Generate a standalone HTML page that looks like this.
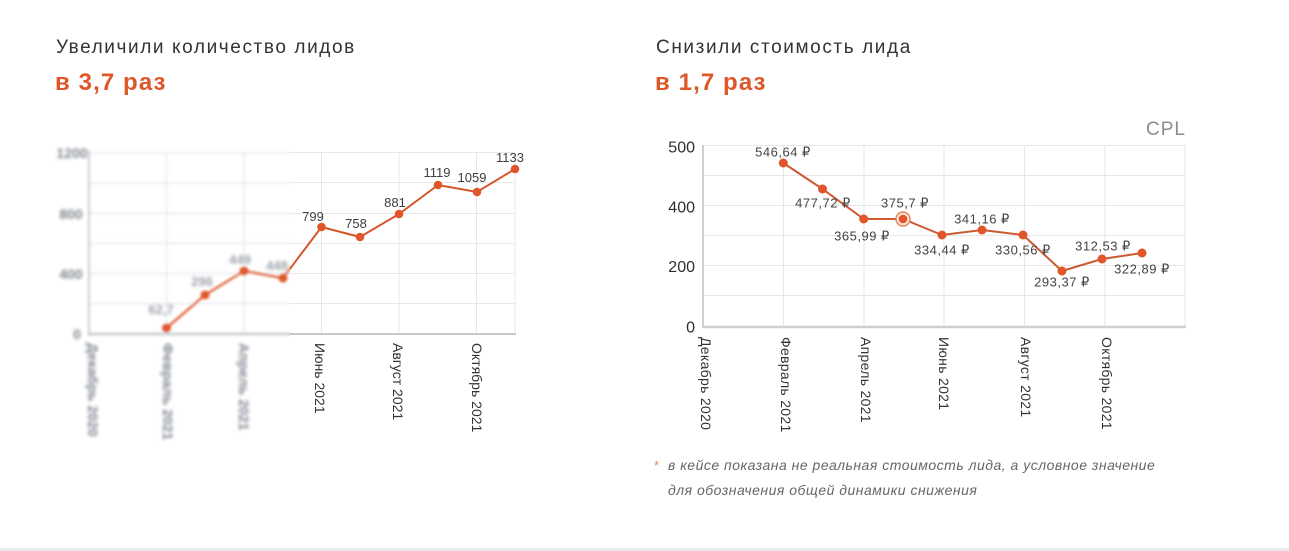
<!DOCTYPE html>
<html><head><meta charset="utf-8"><style>
html,body{margin:0;padding:0;background:#fff;}
body{width:1289px;height:551px;overflow:hidden;position:relative;}
svg{display:block;}
</style></head><body>
<svg width="1289" height="551" viewBox="0 0 1289 551" xmlns="http://www.w3.org/2000/svg" font-family="'Liberation Sans', 'DejaVu Sans', sans-serif">
<defs>
<filter id="bl" x="-30%" y="-30%" width="160%" height="160%"><feGaussianBlur stdDeviation="1.4"/></filter>
<filter id="bt" x="-30%" y="-30%" width="160%" height="160%"><feGaussianBlur stdDeviation="1.6"/></filter>
<clipPath id="cl"><rect x="0" y="0" width="290" height="551"/></clipPath>
<clipPath id="cr"><rect x="290" y="0" width="999" height="551"/></clipPath>
</defs>

<!-- Titles -->
<text x="56" y="53" font-size="19" letter-spacing="1.6" fill="#333">Увеличили количество лидов</text>
<text x="55" y="90" font-size="24" font-weight="bold" letter-spacing="1.1" fill="#de5729">в 3,7 раз</text>
<text x="656" y="53" font-size="19" letter-spacing="1.6" fill="#333">Снизили стоимость лида</text>
<text x="655" y="90" font-size="24" font-weight="bold" letter-spacing="1.1" fill="#de5729">в 1,7 раз</text>

<!-- LEFT CHART: blurred part -->
<g clip-path="url(#cl)">
 <g filter="url(#bl)">
  <g stroke="#e4e6e9" stroke-width="1.3">
   <line x1="89" y1="153" x2="515" y2="153"/>
   <line x1="89" y1="183" x2="515" y2="183"/>
   <line x1="89" y1="213.5" x2="515" y2="213.5"/>
   <line x1="89" y1="243.5" x2="515" y2="243.5"/>
   <line x1="89" y1="273.5" x2="515" y2="273.5"/>
   <line x1="89" y1="303.5" x2="515" y2="303.5"/>
   <line x1="166.5" y1="153" x2="166.5" y2="334"/>
   <line x1="244" y1="153" x2="244" y2="334"/>
  </g>
  <line x1="89" y1="150" x2="89" y2="336" stroke="#d3d6da" stroke-width="2.5"/>
  <line x1="88" y1="334" x2="515" y2="334" stroke="#cdd0d4" stroke-width="3"/>
  <polyline fill="none" stroke="#e0592a" stroke-width="2.2" points="166.5,328 205,295 244,271 283,278 321.5,227 360,237 399,214 438,185 477,192 515,169"/>
  <g fill="#e0592a">
   <circle cx="166.5" cy="328" r="4.5"/><circle cx="205" cy="295" r="4.5"/>
   <circle cx="244" cy="271" r="4.5"/><circle cx="283" cy="278" r="4.5"/>
  </g>
 </g>
 <g filter="url(#bt)" font-weight="bold">
  <g font-size="14" fill="#80868f" text-anchor="middle">
   <text x="72" y="158">1200</text>
   <text x="71" y="219">800</text>
   <text x="71" y="279">400</text>
   <text x="77" y="339">0</text>
  </g>
  <g font-size="13" fill="#9da2aa" text-anchor="middle">
   <text x="161" y="314">62,7</text>
   <text x="202" y="286">296</text>
   <text x="240" y="264">449</text>
   <text x="277" y="270">448</text>
  </g>
  <g font-size="14" fill="#80868f">
   <text transform="translate(93,343) rotate(90)" dy="0.35em">Декабрь 2020</text>
   <text transform="translate(168,343) rotate(90)" dy="0.35em">Февраль 2021</text>
   <text transform="translate(244,343) rotate(90)" dy="0.35em">Апрель 2021</text>
  </g>
 </g>
</g>

<!-- LEFT CHART: sharp part -->
<g clip-path="url(#cr)">
 <g stroke="#e8e8e8" stroke-width="1">
  <line x1="89" y1="152.5" x2="515" y2="152.5"/>
  <line x1="89" y1="182.5" x2="515" y2="182.5"/>
  <line x1="89" y1="213.5" x2="515" y2="213.5"/>
  <line x1="89" y1="243.5" x2="515" y2="243.5"/>
  <line x1="89" y1="273.5" x2="515" y2="273.5"/>
  <line x1="89" y1="303.5" x2="515" y2="303.5"/>
  <line x1="321.5" y1="152" x2="321.5" y2="334"/>
  <line x1="399" y1="152" x2="399" y2="334"/>
  <line x1="476.5" y1="152" x2="476.5" y2="334"/>
  <line x1="515" y1="152" x2="515" y2="334"/>
 </g>
 <line x1="89" y1="334" x2="516" y2="334" stroke="#c8c8c8" stroke-width="2"/>
 <polyline fill="none" stroke="#d5552a" stroke-width="2" points="244,271 283,278 321.5,227 360,237 399,214 438,185 477,192 515,169"/>
 <g fill="#e0562a">
  <circle cx="283" cy="278" r="4.3"/>
  <circle cx="321.5" cy="227" r="4.3"/><circle cx="360" cy="237" r="4.3"/>
  <circle cx="399" cy="214" r="4.3"/><circle cx="438" cy="185" r="4.3"/>
  <circle cx="477" cy="192" r="4.3"/><circle cx="515" cy="169" r="4.3"/>
 </g>
 <g font-size="13" fill="#3e3e3e" text-anchor="middle">
  <text x="313" y="221">799</text>
  <text x="356" y="228">758</text>
  <text x="395" y="207">881</text>
  <text x="437" y="177">1119</text>
  <text x="472" y="182">1059</text>
  <text x="510" y="162">1133</text>
 </g>
 <g font-size="14" fill="#333">
  <text transform="translate(320,343) rotate(90)" dy="0.35em">Июнь 2021</text>
  <text transform="translate(398,343) rotate(90)" dy="0.35em">Август 2021</text>
  <text transform="translate(477,343) rotate(90)" dy="0.35em">Октябрь 2021</text>
 </g>
</g>

<!-- RIGHT CHART -->
<text x="1186" y="135" font-size="19" letter-spacing="1" fill="#8c8c8c" text-anchor="end">CPL</text>
<g stroke="#e6e6e6" stroke-width="1">
 <line x1="703" y1="145.5" x2="1185" y2="145.5"/>
 <line x1="703" y1="175.5" x2="1185" y2="175.5"/>
 <line x1="703" y1="205.5" x2="1185" y2="205.5"/>
 <line x1="703" y1="235.5" x2="1185" y2="235.5"/>
 <line x1="703" y1="265.5" x2="1185" y2="265.5"/>
 <line x1="703" y1="295.5" x2="1185" y2="295.5"/>
 <line x1="783.5" y1="145" x2="783.5" y2="326"/>
 <line x1="864" y1="145" x2="864" y2="326"/>
 <line x1="944" y1="145" x2="944" y2="326"/>
 <line x1="1024.5" y1="145" x2="1024.5" y2="326"/>
 <line x1="1105" y1="145" x2="1105" y2="326"/>
 <line x1="1185" y1="145" x2="1185" y2="326"/>
</g>
<line x1="703" y1="145" x2="703" y2="328" stroke="#cfcfcf" stroke-width="2"/>
<line x1="702" y1="327" x2="1186" y2="327" stroke="#cfcfcf" stroke-width="2.5"/>
<g font-size="16" fill="#2f2f2f" text-anchor="end">
 <text x="695" y="152.5">500</text>
 <text x="695" y="212.5">400</text>
 <text x="695" y="272">200</text>
 <text x="695" y="332.5">0</text>
</g>
<polyline fill="none" stroke="#cc5a30" stroke-width="2" points="783.3,163 822.5,189 863.7,219 903,219 942,235 982,230 1023,235 1062,271 1102,259 1142,253"/>
<circle cx="903" cy="219" r="7" fill="#fbe3d8" stroke="#e7835a" stroke-width="1.4"/>
<g fill="#e0562a">
 <circle cx="783.3" cy="163" r="4.5"/><circle cx="822.5" cy="189" r="4.5"/>
 <circle cx="863.7" cy="219" r="4.5"/><circle cx="903" cy="219" r="4.3"/>
 <circle cx="942" cy="235" r="4.5"/><circle cx="982" cy="230" r="4.5"/>
 <circle cx="1023" cy="235" r="4.5"/><circle cx="1062" cy="271" r="4.5"/>
 <circle cx="1102" cy="259" r="4.5"/><circle cx="1142" cy="253" r="4.5"/>
</g>
<g font-size="13" fill="#444" text-anchor="middle" letter-spacing="0.5">
 <text x="783" y="156.5">546,64 ₽</text>
 <text x="823" y="207.5">477,72 ₽</text>
 <text x="862" y="240.5">365,99 ₽</text>
 <text x="905" y="207.5">375,7 ₽</text>
 <text x="942" y="254.5">334,44 ₽</text>
 <text x="982" y="223.5">341,16 ₽</text>
 <text x="1023" y="254.5">330,56 ₽</text>
 <text x="1062" y="286.5">293,37 ₽</text>
 <text x="1103" y="250.5">312,53 ₽</text>
 <text x="1142" y="273.5">322,89 ₽</text>
</g>
<g font-size="14" fill="#333" letter-spacing="0.3">
 <text transform="translate(706,337) rotate(90)" dy="0.35em">Декабрь 2020</text>
 <text transform="translate(786,337) rotate(90)" dy="0.35em">Февраль 2021</text>
 <text transform="translate(866,337) rotate(90)" dy="0.35em">Апрель 2021</text>
 <text transform="translate(944,337) rotate(90)" dy="0.35em">Июнь 2021</text>
 <text transform="translate(1026,337) rotate(90)" dy="0.35em">Август 2021</text>
 <text transform="translate(1107,337) rotate(90)" dy="0.35em">Октябрь 2021</text>
</g>

<!-- Footnote -->
<text x="654" y="470" font-size="13" fill="#e08a66">*</text>
<g font-size="14" font-style="italic" fill="#666" letter-spacing="0.5">
 <text x="668" y="470">в кейсе показана не реальная стоимость лида, а условное значение</text>
 <text x="668" y="495">для обозначения общей динамики снижения</text>
</g>

<!-- bottom line -->
<rect x="0" y="548" width="1289" height="3" fill="#ececec"/>
</svg>
</body></html>
